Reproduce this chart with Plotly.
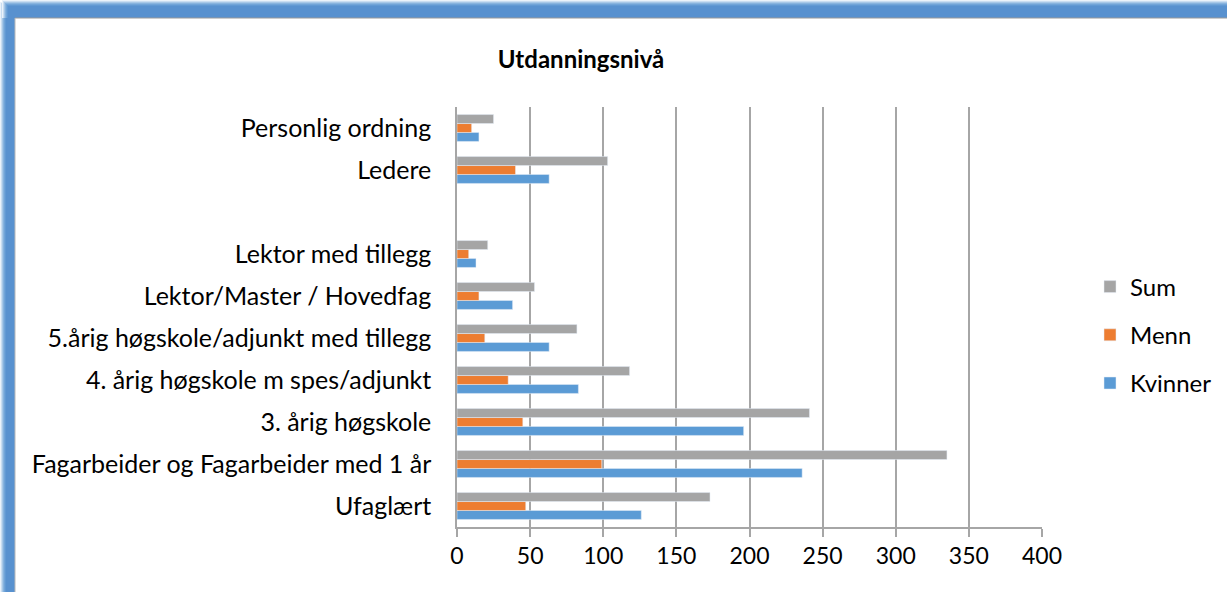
import plotly.graph_objects as go

categories = ["Ufaglært", "Fagarbeider og Fagarbeider med 1 år", "3. årig høgskole",
              "4. årig høgskole m spes/adjunkt", "5.årig høgskole/adjunkt med tillegg",
              "Lektor/Master / Hovedfag", "Lektor med tillegg", " ", "Ledere", "Personlig ordning"]
kvinner = [126, 236, 196, 83, 63, 38, 13, None, 63, 15]
menn = [47, 99, 45, 35, 19, 15, 8, None, 40, 10]
sum_ = [173, 335, 241, 118, 82, 53, 21, None, 103, 25]
x_ticks = [0, 50, 100, 150, 200, 250, 300, 350, 400]

W, H = 1227, 592
L, R, T, B = 457, 185, 107, 65
PW, PH = W - L - R, H - T - B
FONT = "Lato"

def px_x(p):
    return (p - L) / PW

def px_y(p):
    return (H - B - p) / PH

fig = go.Figure()
fig.add_trace(go.Bar(y=categories, x=kvinner, name="Kvinner", orientation="h",
                     marker=dict(color="#5b9bd5"), legendgroup="k", legendrank=3))
fig.add_trace(go.Bar(y=categories, x=menn, name="Menn", orientation="h",
                     marker=dict(color="#ed7d31"), legendgroup="m", legendrank=2))
fig.add_trace(go.Bar(y=categories, x=sum_, name="Sum", orientation="h",
                     marker=dict(color="#a5a5a5"), legendgroup="s", legendrank=1))

shapes = []
# frame: blue gradient on left and top (overlapping strips, light outside -> dark inside)
ramp = ["#eaf2fa", "#c9ddf1", "#a6c7e7", "#87b3de", "#71a4d8", "#6199d3", "#5891cf"]
step = 1.0
for i, c in enumerate(ramp):
    d = i * step
    shapes.append(dict(type="rect", xref="paper", yref="paper",
                       x0=px_x(d), x1=px_x(15), y0=px_y(H + 5), y1=px_y(d + 2),
                       fillcolor=c, line=dict(width=0), layer="below"))
for i, c in enumerate(ramp):
    d = i * step
    shapes.append(dict(type="rect", xref="paper", yref="paper",
                       x0=px_x(d + 2), x1=px_x(W + 5), y0=px_y(18), y1=px_y(d),
                       fillcolor=c, line=dict(width=0), layer="below"))
# inner white panel edge lines
shapes.append(dict(type="line", xref="paper", yref="paper",
                   x0=px_x(15), x1=px_x(W + 5), y0=px_y(18), y1=px_y(18),
                   line=dict(color="#9a9a9a", width=1.2), layer="below"))
shapes.append(dict(type="line", xref="paper", yref="paper",
                   x0=px_x(15), x1=px_x(15), y0=px_y(18), y1=px_y(H + 5),
                   line=dict(color="#b8b8b8", width=1), layer="below"))

fig.update_layout(
    width=W, height=H,
    margin=dict(l=L, r=R, t=T, b=B, autoexpand=False),
    paper_bgcolor="white", plot_bgcolor="white",
    barmode="group", bargap=0.36, bargroupgap=0,
    font=dict(family=FONT, size=23, color="#000000"),
    title=dict(text="<b>Utdanningsnivå</b>", x=581 / W, xref="container", xanchor="center",
               y=1 - 60 / H, yref="container", yanchor="middle",
               font=dict(family=FONT, size=24, color="#000000")),
    showlegend=True,
    legend=dict(x=px_x(1090), y=px_y(335), xanchor="left", yanchor="middle",
                traceorder="grouped", tracegroupgap=14,
                font=dict(family=FONT, size=24, color="#000000"),
                bgcolor="rgba(0,0,0,0)", itemclick=False),
    xaxis=dict(range=[0, 400], tickvals=x_ticks, showgrid=True, gridcolor="#a6a6a6",
               gridwidth=1.5, zeroline=False, showline=True, linecolor="#a6a6a6",
               linewidth=1.5, ticks="outside", ticklen=8, tickcolor="#a6a6a6",
               tickwidth=1.5, automargin=False, fixedrange=True,
               tickfont=dict(family=FONT, size=23)),
    yaxis=dict(categoryorder="array", categoryarray=categories, type="category",
               showline=True, linecolor="#a6a6a6", linewidth=1.5, showgrid=False,
               ticks="", automargin=False, ticklabelstandoff=19, fixedrange=True,
               tickfont=dict(family=FONT, size=25)),
    shapes=shapes,
)

fig.write_html("out.html", config={"displayModeBar": False},
               post_script="document.body.style.margin='0';document.body.style.padding='0';")
